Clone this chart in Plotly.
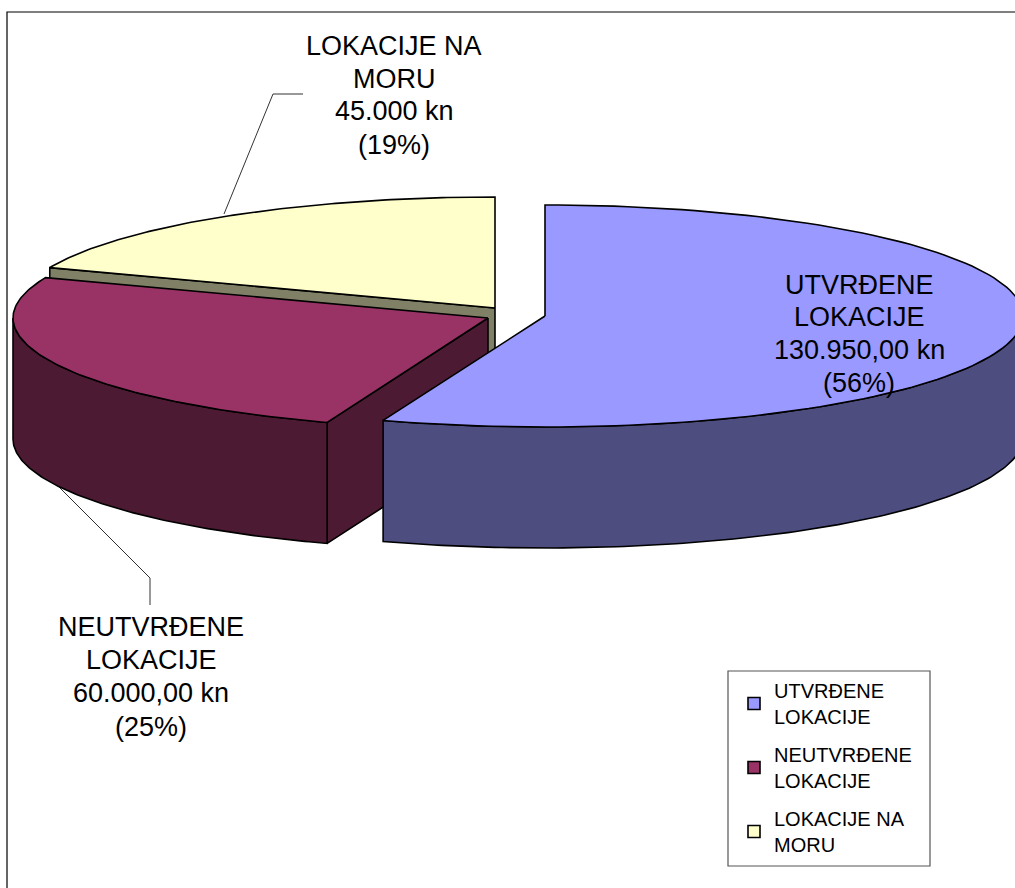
import math
import plotly.graph_objects as go

# --- data -------------------------------------------------------------
categories = ["UTVRĐENE LOKACIJE", "NEUTVRĐENE LOKACIJE", "LOKACIJE NA MORU"]
values = [130950, 60000, 45000]
percent_labels = ["(56%)", "(25%)", "(19%)"]
value_labels = ["130.950,00 kn", "60.000,00 kn", "45.000 kn"]
name_line1 = ["UTVRĐENE", "NEUTVRĐENE", "LOKACIJE NA"]
name_line2 = ["LOKACIJE", "LOKACIJE", "MORU"]

# --- styles / layout --------------------------------------------------
top_colors = ["#9999FF", "#993366", "#FFFFCC"]
side_colors = ["#4D4D80", "#4D1A33", "#808066"]
centers = [(545, 316), (488, 318), (495, 308)]   # exploded slice apexes
radii_x = [478, 475, 478]
RY, DEPTH = 111, 121
label_cx = [859, 151, 394]
label_y = [(285, 317, 350, 383), (627, 660, 693, 727), (46, 79, 111, 145)]
FONT = "Liberation Sans, Arial, sans-serif"
LW = 1.6

total = sum(values)
cum = [0]
for v in values:
    cum.append(cum[-1] + v)
angles = [c / total * 360 for c in cum]


def ell(i, deg, dy=0):
    t = math.radians(deg)
    c = centers[i]
    return c[0] + radii_x[i] * math.sin(t), c[1] - RY * math.cos(t) + dy


def arc(i, a0, a1, dy=0, n=120):
    return [ell(i, a0 + (a1 - a0) * k / n, dy) for k in range(n + 1)]


def poly(fig, pts, color):
    xs = [p[0] for p in pts] + [pts[0][0]]
    ys = [p[1] for p in pts] + [pts[0][1]]
    fig.add_trace(go.Scatter(x=xs, y=ys, mode="lines", fill="toself", fillcolor=color,
                             line=dict(color="black", width=LW), hoverinfo="skip",
                             showlegend=False))


fig = go.Figure()

# slice 3 (back): cut wall and top
i = 2
c = centers[i]
a0, a1 = angles[i], angles[i + 1]
p0 = ell(i, a0)
poly(fig, [c, p0, (p0[0], p0[1] + DEPTH), (c[0], c[1] + DEPTH)], side_colors[i])
poly(fig, [c] + arc(i, a0, a1), top_colors[i])

# slice 2: outer wall, cut wall, top
i = 1
c = centers[i]
a0, a1 = angles[i], angles[i + 1]
p0 = ell(i, a0)
poly(fig, [c, p0, (p0[0], p0[1] + DEPTH), (c[0], c[1] + DEPTH)], side_colors[i])
wall = arc(i, a0, 270)
poly(fig, wall + [(x, y + DEPTH) for x, y in reversed(wall)], side_colors[i])
poly(fig, [c] + arc(i, a0, a1), top_colors[i])

# slice 1 (front right): outer wall and top
i = 0
c = centers[i]
a0, a1 = angles[i], angles[i + 1]
wall = arc(i, 90, a1)
poly(fig, wall + [(x, y + DEPTH) for x, y in reversed(wall)], side_colors[i])
poly(fig, [c] + arc(i, a0, a1), top_colors[i])

# native legend, fed by marker-only traces
for i in range(3):
    fig.add_trace(go.Scatter(x=[None], y=[None], mode="markers",
                             name=f"{name_line1[i]}<br>{name_line2[i]}",
                             legendgroup=str(i), hoverinfo="skip",
                             marker=dict(symbol="square", size=12, color=top_colors[i],
                                         line=dict(color="black", width=1.6))))

# data labels, one annotation per text line
for i in range(3):
    lines = [name_line1[i], name_line2[i], value_labels[i], percent_labels[i]]
    for text, y in zip(lines, label_y[i]):
        fig.add_annotation(x=label_cx[i], y=y, xref="x", yref="y", showarrow=False,
                           text=text, font=dict(family=FONT, size=27, color="black"))

shapes = [
    dict(type="rect", x0=7, y0=12, x1=1040, y1=910, xref="x", yref="y", layer="below",
         line=dict(color="black", width=1.2), fillcolor="white"),
    dict(type="rect", x0=728, y0=671, x1=930, y1=866, xref="x", yref="y", layer="below",
         line=dict(color="#555555", width=1.2), fillcolor="white"),
    dict(type="path", path="M 303 94 L 273 94 L 224 214", xref="x", yref="y", layer="below",
         line=dict(color="#333333", width=1)),
    dict(type="path", path="M 58 486 L 150 578 L 150 605", xref="x", yref="y", layer="below",
         line=dict(color="#333333", width=1)),
]

fig.update_layout(
    width=1015, height=888, margin=dict(l=0, r=0, t=0, b=0),
    paper_bgcolor="white", plot_bgcolor="white", shapes=shapes,
    xaxis=dict(range=[0, 1015], visible=False, fixedrange=True),
    yaxis=dict(range=[888, 0], visible=False, fixedrange=True),
    showlegend=True,
    legend=dict(x=734 / 1015, y=1 - 671 / 888, xanchor="left", yanchor="top",
                bgcolor="rgba(0,0,0,0)", borderwidth=0,
                traceorder="grouped", tracegroupgap=9,
                font=dict(family=FONT, size=20, color="black"),
                itemwidth=30),
)

fig.write_html("out.html", config={"displayModeBar": False},
               post_script="document.body.style.margin='0';document.body.style.overflow='hidden';")
